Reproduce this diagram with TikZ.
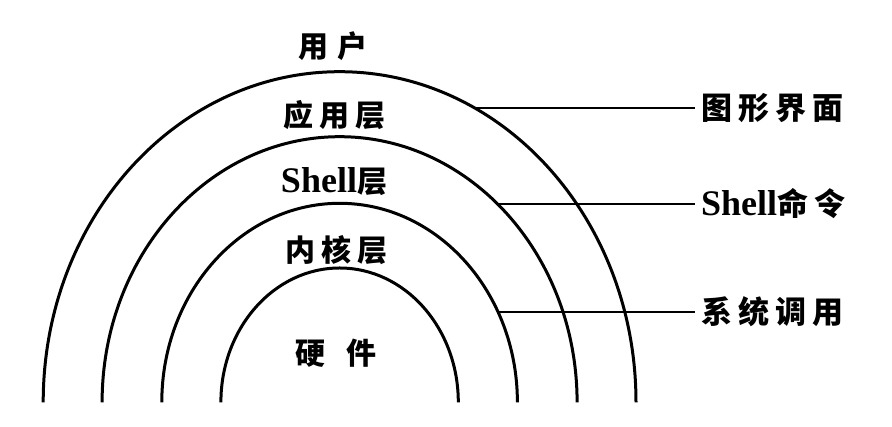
\documentclass[tikz,border=0pt]{standalone}
\usepackage{fontspec}
\setmainfont{Liberation Serif}
\newfontfamily\cjk[LetterSpace=20]{Noto Sans CJK SC}
\newcommand\shfont{\rmfamily\bfseries\fontsize{36}{38}\selectfont}
\usetikzlibrary{calc,positioning}
\tikzset{
	layer/.style={line width=3pt},
	link/.style={line width=1.8pt},
	tag/.style={inner sep=0pt, font=\cjk\bfseries\fontsize{30}{32}\selectfont},
	side/.style={anchor=west, inner xsep=6pt, inner ysep=0pt, font=\cjk\bfseries\fontsize{31}{33}\selectfont}
}
\begin{document}
\begin{tikzpicture}[x=1pt,y=1pt]
			\useasboundingbox (0,0) rectangle (892,427);
			\coordinate (O) at (339.6,24.7);
			\coordinate (edge) at (695,0);
			\foreach \a/\b in {296.4/330.6, 237.5/265.6, 177.8/199, 118.7/134.3}
				\draw [layer] ($(O)+(-\a,0)$) arc [start angle=180, end angle=0, x radius=\a, y radius=\b];
			\coordinate (p1) at ($(O)+(62.8:296.4 and 330.6)$);
			\coordinate (p2) at ($(O)+(48.3:237.5 and 265.6)$);
			\coordinate (p3) at ($(O)+(27.1:177.8 and 199)$);
			% layers
			\node [tag] (user) at (333,381) {用\hspace{10pt}户};
			\node [tag] (app) at (334,312) {应用层};
			\node [tag] (shell) at (334,245) {{\shfont Shell}层};
			\node [tag] (kernel) at (336,177) {内核层};
			\node [tag] (hw) at (336,74) {硬\hspace{22pt}件};
			% interfaces
			\node [side] (gui) at (p1 -| edge) {图形界面};
			\node [side] (cmd) at (p2 -| edge) {{\shfont Shell}命令};
			\node [side] (sys) at (p3 -| edge) {系统调用};
			\draw [link] (p1) -- (gui.west);
			\draw [link] (p2) -- (cmd.west);
			\draw [link] (p3) -- (sys.west);
		\end{tikzpicture}
\end{document}
